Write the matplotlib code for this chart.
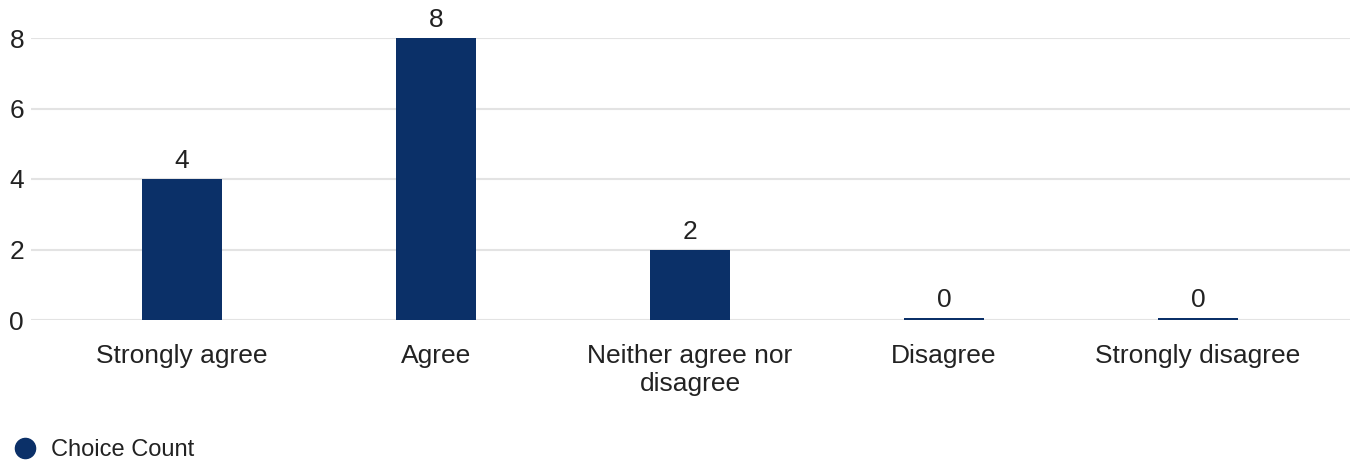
import matplotlib
matplotlib.use("Agg")
import matplotlib.pyplot as plt
from matplotlib.lines import Line2D
import numpy as np

categories = ["Strongly agree", "Agree", "Neither agree nor\ndisagree", "Disagree", "Strongly disagree"]
counts = [4, 8, 2, 0, 0]
series_name = "Choice Count"
y_ticks = [0, 2, 4, 6, 8]

BAR_COLOR = "#0b3068"
TEXT_COLOR = "#222222"
GRID_COLOR = "#e3e3e3"

plt.rcParams['font.family'] = ['Liberation Sans', 'DejaVu Sans']

W, H = 1356, 462
fig = plt.figure(figsize=(W / 100, H / 100), dpi=100)
ax = fig.add_axes([31 / W, 1 - 320 / H, (1350 - 31) / W, (320 - 38) / H])

x = np.arange(len(categories))
vals = np.array(counts, dtype=float)
min_vis = 0.06  # thin line drawn for zero-valued bars
ax.bar(x, np.maximum(vals, min_vis), width=0.315, color=BAR_COLOR, zorder=3)

for xi, v in zip(x, counts):
    ax.annotate(str(v), xy=(xi, max(v, min_vis)), xytext=(0, 4), textcoords="offset points",
                ha="center", va="bottom", fontsize=19, color=TEXT_COLOR, clip_on=False)

ax.set_xlim(-0.5 - 24 / 254, len(categories) - 0.5 + 25 / 254)
ax.set_ylim(0, 8)
ax.set_yticks(y_ticks)
ax.set_xticks(x)
ax.set_xticklabels(categories, linespacing=1.25)
ax.tick_params(axis="x", length=0, pad=17, labelsize=19, labelcolor=TEXT_COLOR)
ax.tick_params(axis="y", length=0, pad=5, labelsize=19, labelcolor=TEXT_COLOR)
ax.grid(axis="y", color=GRID_COLOR, linewidth=1.5, zorder=0)
ax.set_axisbelow(True)
for s in ax.spines.values():
    s.set_visible(False)

handle = Line2D([], [], marker="o", linestyle="", color=BAR_COLOR, markersize=14.5)
fig.legend([handle], [series_name], loc="center left", bbox_to_anchor=(1 / W, 1 - 450 / H),
           frameon=False, fontsize=17, handletextpad=0.5, labelcolor=TEXT_COLOR,
           borderaxespad=0, handlelength=1.2)

fig.savefig("out.png", dpi=100)
